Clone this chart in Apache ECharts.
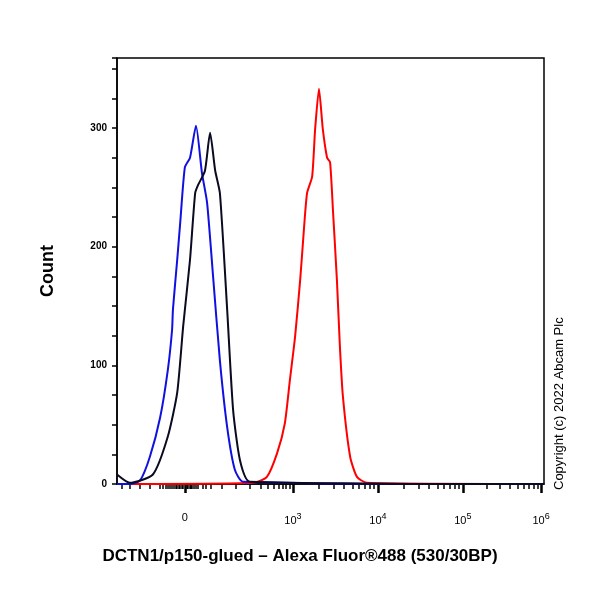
<!DOCTYPE html>
<html>
<head>
<meta charset="utf-8">
<script src="https://cdn.jsdelivr.net/npm/echarts@6/dist/echarts.min.js"></script>
<style>html,body{margin:0;padding:0;background:#fff}#main{width:600px;height:600px}</style>
</head>
<body>
<div id="main"></div>
<script>
// x in display channels (0-1000, biexponential scale), y in counts
var blueX  = [0, 30, 54, 77, 101, 119, 129, 131, 141, 148, 159, 171, 185, 199, 211, 225, 241, 258, 276, 295, 1000];
var blueY  = [0, 0, 3, 23, 56, 96, 130, 147, 189, 220, 267, 275, 302, 262, 237, 175, 104, 48, 12, 2, 0];
var blackX = [0, 30, 84, 119, 141, 155, 171, 183, 190, 206, 218, 230, 241, 258, 272, 288, 311, 1000];
var blackY = [8, 1, 8, 40, 77, 133, 189, 245, 252, 264, 296, 264, 245, 147, 62, 20, 2, 0];
var redX   = [0, 319, 351, 375, 393, 405, 417, 429, 436, 445, 457, 464, 473, 482, 492, 499, 506, 515, 522, 529, 546, 562, 585, 1000];
var redY   = [0, 1, 6, 26, 51, 88, 124, 172, 206, 245, 259, 299, 333, 299, 275, 271, 229, 172, 116, 74, 23, 6, 1, 0];

var decadePos = [159, 412, 611, 810, 993];   // 0, 10^3, 10^4, 10^5, 10^6
var decadeText = ['0', '10{s|3}', '10{s|4}', '10{s|5}', '10{s|6}'];
var negMinor = [12, 30, 54, 77, 101, 108, 114, 119, 124, 129, 133, 137, 141, 145, 148, 152, 155, 163, 166, 170, 173, 176, 180, 185, 190, 200, 209, 219];
var midMinor = [246, 278, 312, 336, 352, 366, 378, 388, 396, 404];

function zip(xs, ys) { return xs.map(function (x, i) { return [x, ys[i]]; }); }

var minorTicks = negMinor.concat(midMinor);
for (var d = 1; d < 4; d++) {
  for (var k = 2; k < 10; k++) {
    minorTicks.push(decadePos[d] + Math.log10(k) * (decadePos[d + 1] - decadePos[d]));
  }
}

var chart = echarts.init(document.getElementById('main'));
var lineCommon = { type: 'line', showSymbol: false, smooth: 0.2, lineStyle: { width: 2 } };
chart.setOption({
  animation: false,
  grid: { left: 117, right: 56, top: 58, bottom: 116, show: true, borderColor: '#000', borderWidth: 1.5 },
  xAxis: [{
    type: 'value', min: 0, max: 1000,
    axisLine: { lineStyle: { color: '#000', width: 1.5 } },
    axisTick: { customValues: minorTicks, length: 5, lineStyle: { color: '#000', width: 1.5 } },
    axisLabel: { customValues: [] },
    splitLine: { show: false }
  }, {
    type: 'value', min: 0, max: 1000, position: 'bottom',
    axisLine: { show: false },
    axisTick: { customValues: decadePos, length: 9, lineStyle: { color: '#000', width: 2.5 } },
    axisLabel: {
      customValues: decadePos, margin: 28, color: '#000', fontFamily: 'Arial, Liberation Sans', fontSize: 11,
      formatter: function (v) { return decadeText[decadePos.indexOf(v)]; },
      rich: { s: { fontSize: 9, verticalAlign: 'bottom', padding: [0, 0, 8, 0] } }
    },
    splitLine: { show: false }
  }],
  yAxis: {
    type: 'value', min: 0, max: 359, interval: 25,
    name: 'Count', nameLocation: 'middle', nameGap: 60, nameRotate: 90,
    nameTextStyle: { fontSize: 18, fontWeight: 'bold', color: '#000', fontFamily: 'Arial, Liberation Sans' },
    axisLine: { lineStyle: { color: '#000', width: 1.5 } },
    axisTick: { length: 5, lineStyle: { color: '#000', width: 1.5 } },
    axisLabel: {
      color: '#000', fontSize: 10, fontWeight: 'bold', fontFamily: 'Arial, Liberation Sans', margin: 10,
      formatter: function (v) { return v % 100 === 0 ? v : ''; }
    },
    splitLine: { show: false }
  },
  series: [
    Object.assign({}, lineCommon, { data: zip(redX, redY), color: '#ff0000', z: 1 }),
    Object.assign({}, lineCommon, { data: zip(blueX, blueY), color: '#1010e0', z: 2 }),
    Object.assign({}, lineCommon, { data: zip(blackX, blackY), color: '#0a0a20', z: 3 })
  ],
  graphic: [{
    type: 'text', left: 'center', top: 548,
    style: { text: 'DCTN1/p150-glued \u2013 Alexa Fluor\u00ae488 (530/30BP)', fontSize: 17, fontWeight: 'bold', fill: '#000', fontFamily: 'Arial, Liberation Sans' }
  }, {
    type: 'text', x: 553, y: 490, rotation: Math.PI / 2,
    style: { text: 'Copyright (c) 2022 Abcam Plc', fontSize: 13, fill: '#000', fontFamily: 'Arial, Liberation Sans' }
  }]
});
</script>
</body>
</html>
